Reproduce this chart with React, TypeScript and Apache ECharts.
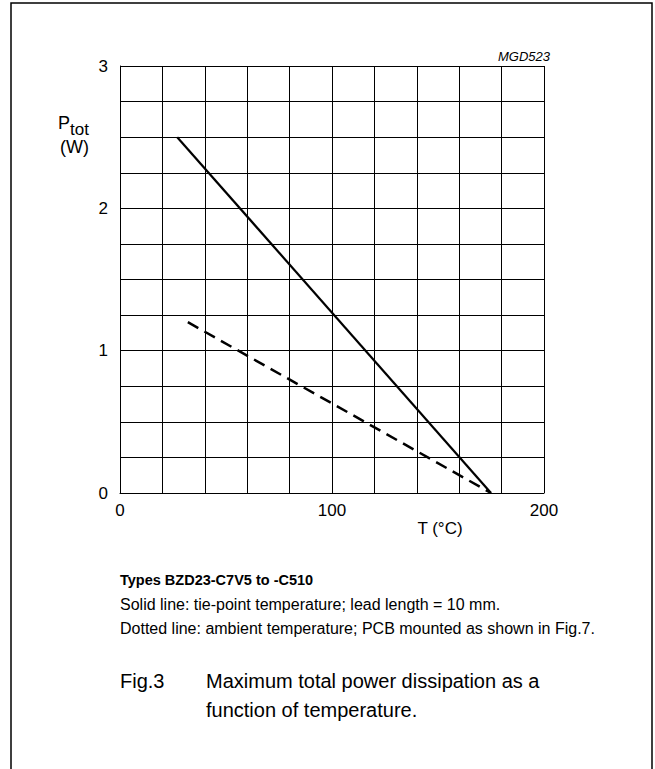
import React, { useEffect, useRef } from "react";
import * as echarts from "echarts";

const solidT = [27, 175];
const solidP = [2.5, 0];
const dottedT = [32, 175];
const dottedP = [1.2, 0];
const xTickLabels = [0, 100, 200];
const yTickLabels = [0, 1, 2, 3];

const FONT = "'Liberation Sans', Arial, sans-serif";

export default function App() {
  const ref = useRef<HTMLDivElement>(null);
  useEffect(() => {
    if (!ref.current) return;
    const chart = echarts.init(ref.current, undefined, { renderer: "svg" });
    const solid = solidT.map((t, i) => [t, solidP[i]]);
    const dotted = dottedT.map((t, i) => [t, dottedP[i]]);
    chart.setOption({
      animation: false,
      backgroundColor: "#fff",
      grid: { left: 120, right: 111, top: 66, bottom: 276, containLabel: false },
      xAxis: {
        type: "value",
        min: 0,
        max: 200,
        interval: 20,
        axisLine: { show: true, lineStyle: { color: "#000", width: 1 } },
        axisTick: { show: false },
        axisLabel: {
          color: "#000",
          fontSize: 17,
          fontFamily: FONT,
          margin: 9,
          formatter: (v: number) => (xTickLabels.includes(v) ? String(v) : ""),
        },
        splitLine: { show: true, lineStyle: { color: "#000", width: 1 } },
      },
      yAxis: {
        type: "value",
        min: 0,
        max: 3,
        interval: 0.25,
        axisLine: { show: true, lineStyle: { color: "#000", width: 1 } },
        axisTick: { show: false },
        axisLabel: {
          color: "#000",
          fontSize: 17,
          fontFamily: FONT,
          margin: 12,
          formatter: (v: number) => (yTickLabels.includes(v) ? String(v) : ""),
        },
        splitLine: { show: true, lineStyle: { color: "#000", width: 1 } },
      },
      series: [
        {
          type: "line",
          data: solid,
          symbol: "none",
          lineStyle: { color: "#000", width: 2.2, type: "solid" },
        },
        {
          type: "line",
          data: dotted,
          symbol: "none",
          lineStyle: { color: "#000", width: 2.5, type: [12, 7] },
        },
      ],
      graphic: [
        {
          type: "rect",
          shape: { x: 11, y: 3, width: 641, height: 800 },
          style: { fill: "none", stroke: "#000", lineWidth: 1.5 },
        },
        {
          type: "text",
          x: 550,
          y: 56,
          style: { text: "MGD523", fontSize: 13, fontStyle: "italic", fontFamily: FONT, fill: "#000", align: "right", verticalAlign: "middle" },
        },
        {
          type: "text",
          x: 58,
          y: 123,
          style: { text: "P", fontSize: 18, fontFamily: FONT, fill: "#000", align: "left", verticalAlign: "middle" },
        },
        {
          type: "text",
          x: 70,
          y: 129,
          style: { text: "tot", fontSize: 17, fontFamily: FONT, fill: "#000", align: "left", verticalAlign: "middle" },
        },
        {
          type: "text",
          x: 60,
          y: 147,
          style: { text: "(W)", fontSize: 18, fontFamily: FONT, fill: "#000", align: "left", verticalAlign: "middle" },
        },
        {
          type: "text",
          x: 440,
          y: 528,
          style: { text: "T (°C)", fontSize: 17, fontFamily: FONT, fill: "#000", align: "center", verticalAlign: "middle" },
        },
        {
          type: "text",
          x: 120,
          y: 580,
          style: { text: "Types BZD23-C7V5 to -C510", fontSize: 14.5, fontWeight: "bold", fontFamily: FONT, fill: "#000", align: "left", verticalAlign: "middle" },
        },
        {
          type: "text",
          x: 120,
          y: 604,
          style: { text: "Solid line: tie-point temperature; lead length = 10 mm.", fontSize: 16, fontFamily: FONT, fill: "#000", align: "left", verticalAlign: "middle" },
        },
        {
          type: "text",
          x: 120,
          y: 628,
          style: { text: "Dotted line: ambient temperature; PCB mounted as shown in Fig.7.", fontSize: 16, fontFamily: FONT, fill: "#000", align: "left", verticalAlign: "middle" },
        },
        {
          type: "text",
          x: 120,
          y: 681,
          style: { text: "Fig.3", fontSize: 20, fontFamily: FONT, fill: "#000", align: "left", verticalAlign: "middle" },
        },
        {
          type: "text",
          x: 206,
          y: 681,
          style: { text: "Maximum total power dissipation as a", fontSize: 20, fontFamily: FONT, fill: "#000", align: "left", verticalAlign: "middle" },
        },
        {
          type: "text",
          x: 206,
          y: 710,
          style: { text: "function of temperature.", fontSize: 20, fontFamily: FONT, fill: "#000", align: "left", verticalAlign: "middle" },
        },
      ],
    });
    return () => chart.dispose();
  }, []);
  return (
    <div
      ref={ref}
      style={{ position: "fixed", left: 0, top: 0, width: 655, height: 769, background: "#fff" }}
    />
  );
}
